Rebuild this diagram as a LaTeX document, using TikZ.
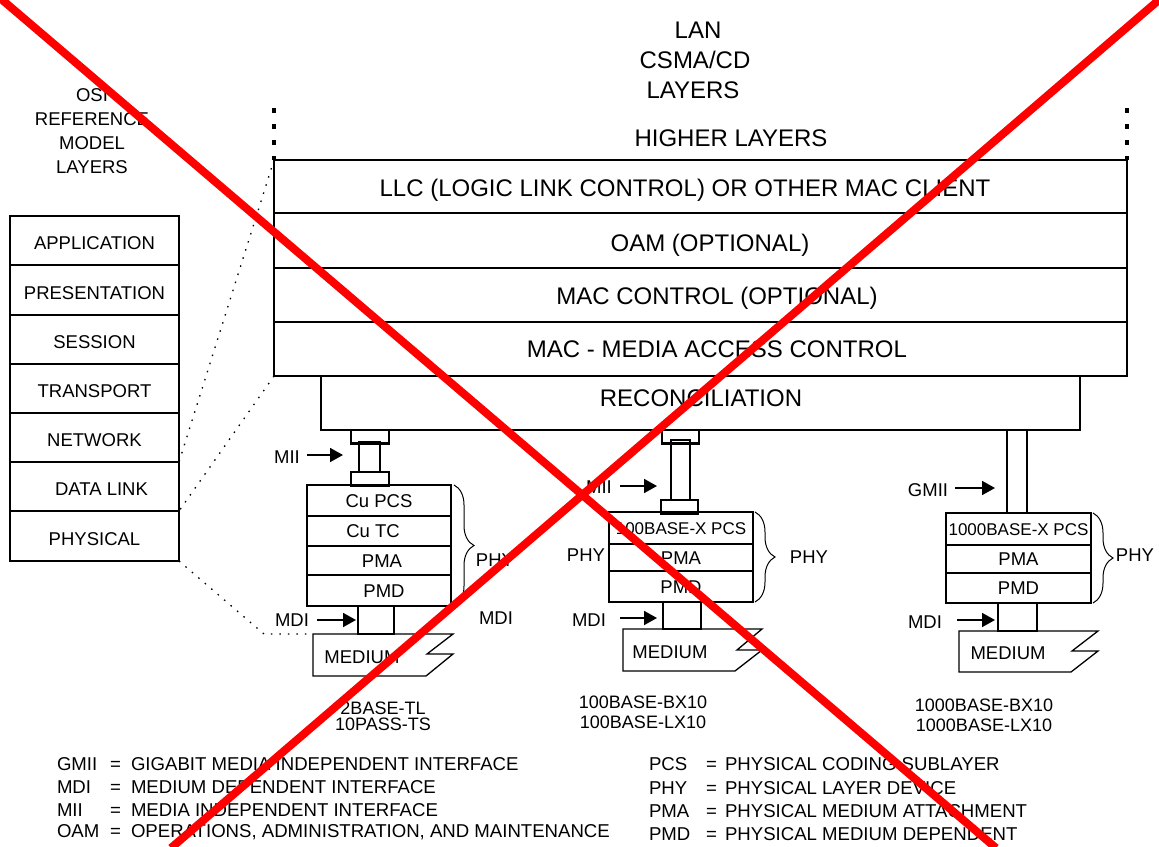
\documentclass[tikz,border=0pt]{standalone}
\usepackage{fontspec}
\setmainfont{Liberation Sans}
\usetikzlibrary{arrows.meta,decorations.pathreplacing}
\begin{document}
\begin{tikzpicture}[x=1pt,y=-1pt,
  txt/.style={inner sep=0pt, outer sep=0pt, text height=13pt, text depth=0pt, font=\fontsize{18}{20}\selectfont},
  lbl/.style={txt, font=\fontsize{18.5}{20}\selectfont, text height=13.3pt},
  leg/.style={txt, anchor=west, font=\fontsize{18.6}{20}\selectfont, text height=13.3pt},
  big/.style={txt, font=\fontsize{24}{26}\selectfont, text height=17.2pt},
  box/.style={draw, line width=2.4pt, rectangle, inner sep=0pt, outer sep=0pt, anchor=north west, text height=13.3pt, text depth=0pt, font=\fontsize{18.5}{20}\selectfont},
  osibox/.style={box, minimum width=169pt, text height=18pt},
  pcs/.style={font=\fontsize{17}{18}\selectfont, text height=12.2pt},
  arr/.style={line width=1.8pt, -{Triangle[length=13pt,width=14pt]}},
  proj/.style={line width=1.3pt, dash pattern=on 1.5pt off 7pt},
  vdots/.style={line width=3.2pt, dash pattern=on 5pt off 11pt},
  phybrace/.style={decorate, decoration={brace, amplitude=20pt}, line width=1pt},
  cross/.style={draw=red, line width=8pt}
]
\useasboundingbox (0,0) rectangle (1159,846);

% ---------- LAN heading ----------
\node[big] (lan1) at (698,30) {LAN};
\node[big] (lan2) at (695,60) {CSMA/CD};
\node[big] (lan3) at (693,90) {LAYERS};

% ---------- OSI heading ----------
\node[lbl] (osi1) at (92,95) {OSI};
\node[lbl] (osi2) at (92,119) {REFERENCE};
\node[lbl] (osi3) at (92,143) {MODEL};
\node[lbl] (osi4) at (92,167) {LAYERS};

% ---------- OSI boxes ----------
\node[osibox, minimum height=49pt] (app) at (10,216) {APPLICATION};
\node[osibox, minimum height=50pt] (pres) at (10,265) {PRESENTATION};
\node[osibox, minimum height=49pt] (sess) at (10,315) {SESSION};
\node[osibox, minimum height=49pt] (trans) at (10,364) {TRANSPORT};
\node[osibox, minimum height=49pt] (net) at (10,413) {NETWORK};
\node[osibox, minimum height=49pt] (dl) at (10,462) {\hspace*{14pt}DATA LINK};
\node[osibox, minimum height=50pt] (phys) at (10,511) {PHYSICAL};

% ---------- LAN stack ----------
\node[big] (higher) at (731,138) {HIGHER LAYERS};
\node[box, minimum width=853pt, minimum height=53pt] (llc) at (274,160) {};
\node[box, minimum width=853pt, minimum height=55pt] (oam) at (274,213) {};
\node[box, minimum width=853pt, minimum height=54pt] (macc) at (274,268) {};
\node[box, minimum width=853pt, minimum height=54pt] (mac) at (274,322) {};
\node[box, minimum width=759pt, minimum height=54pt] (rec) at (321,376) {};
\node[big] (llct) at (685,188) {LLC (LOGIC LINK CONTROL) OR OTHER MAC CLIENT};
\node[big] (oamt) at (710,243) {OAM (OPTIONAL)};
\node[big] (macct) at (717,296) {MAC CONTROL (OPTIONAL)};
\node[big] (mact) at (717,349) {MAC - MEDIA ACCESS CONTROL};
\node[big] (rect) at (701,398) {RECONCILIATION};

% dotted continuation lines
\coordinate (vl) at (274,108);
\coordinate (vr) at (1127,108);
\draw[vdots] (vl) -- (llc.north west);
\draw[vdots] (vr) -- (llc.north east);

% projection lines
\coordinate (bend) at (264,634);
\coordinate (m1) at (313,634);
\draw[proj] (llc.north west) -- (dl.north east);
\draw[proj] (mac.south west) -- (dl.south east);
\draw[proj] (phys.south east) -- (bend) -- (m1);

% ---------- Column 1 ----------
\node[box, minimum width=38pt, minimum height=12pt] (c1top) at (351,430) {};
\node[box, minimum width=21pt, minimum height=30pt] (c1stem) at (359,442) {};
\node[box, minimum width=38pt, minimum height=13pt] (c1bot) at (351,472) {};
\node[box, minimum width=144pt, minimum height=31pt] (c1pcs) at (307,485) {Cu PCS};
\node[box, minimum width=144pt, minimum height=30pt] (c1tc) at (307,516) {\hspace*{-12pt}Cu TC};
\node[box, minimum width=144pt, minimum height=29pt] (c1pma) at (307,546) {\hspace*{6pt}PMA};
\node[box, minimum width=144pt, minimum height=31pt] (c1pmd) at (307,575) {\hspace*{10pt}PMD};
\node[box, minimum width=36pt, minimum height=28pt] (c1mdi) at (358,606) {};
\draw[line width=1.3pt] (m1) -- (453,634) -- (427,654) -- (453,654) -- (426,676) -- (313,676) -- cycle;
\node[lbl] (med1) at (362,657) {MEDIUM};
\coordinate (b1a) at (454,485);
\coordinate (b1b) at (454,606);
\draw[phybrace] (b1a) -- (b1b);
\node[lbl] (phy1) at (495,560) {PHY};
\node[lbl] (mdi1r) at (496,618) {MDI};
\node[lbl] (mii1) at (287,457) {MII};
\coordinate (mii1tip) at (343,455);
\draw[arr] (307,455) -- (mii1tip);
\node[lbl] (mdi1) at (292,620) {MDI};
\coordinate (mdi1tip) at (356,620);
\draw[arr] (mdi1.east) ++(8,0) -- (mdi1tip);
\node[txt] (std1a) at (383,708) {2BASE-TL};
\node[txt] (std1b) at (383,724) {10PASS-TS};

% ---------- Column 2 ----------
\node[box, minimum width=37pt, minimum height=10pt] (c2top) at (662,430) {};
\node[box, minimum width=19pt, minimum height=60pt] (c2stem) at (671,440) {};
\node[box, minimum width=37pt, minimum height=12pt] (c2bot) at (661,500) {};
\node[box, pcs, minimum width=144pt, minimum height=32pt] (c2pcs) at (609,512) {100BASE-X PCS};
\node[box, minimum width=144pt, minimum height=27pt] (c2pma) at (609,544) {PMA};
\node[box, minimum width=144pt, minimum height=31pt] (c2pmd) at (609,571) {PMD};
\node[box, minimum width=38pt, minimum height=27pt] (c2mdi) at (663,602) {};
\coordinate (m2) at (623,629);
\draw[line width=1.3pt] (m2) -- (762,629) -- (737,650) -- (762,650) -- (735,671) -- (623,671) -- cycle;
\node[lbl] (med2) at (670,652) {MEDIUM};
\coordinate (b2a) at (755,512);
\coordinate (b2b) at (755,602);
\draw[phybrace] (b2a) -- (b2b);
\node[lbl] (phy2) at (809,557) {PHY};
\node[lbl] (phy2l) at (586,555) {PHY};
\node[lbl] (mii2) at (599,487) {MII};
\coordinate (mii2tip) at (657,486);
\draw[arr] (620,486) -- (mii2tip);
\node[lbl] (mdi2) at (589,620) {MDI};
\coordinate (mdi2tip) at (657,618);
\draw[arr] (620,618) -- (mdi2tip);
\node[txt] (std2a) at (643,702) {100BASE-BX10};
\node[txt] (std2b) at (643,722) {100BASE-LX10};

% ---------- Column 3 ----------
\node[box, minimum width=20pt, minimum height=83pt] (c3stem) at (1007,430) {};
\node[box, pcs, minimum width=145pt, minimum height=32pt] (c3pcs) at (946,513) {1000BASE-X PCS};
\node[box, minimum width=145pt, minimum height=28pt] (c3pma) at (946,545) {PMA};
\node[box, minimum width=145pt, minimum height=30pt] (c3pmd) at (946,573) {PMD};
\node[box, minimum width=39pt, minimum height=28pt] (c3mdi) at (998,603) {};
\coordinate (m3) at (959,631);
\draw[line width=1.3pt] (m3) -- (1098,631) -- (1072,651) -- (1098,651) -- (1071,672) -- (959,672) -- cycle;
\node[lbl] (med3) at (1008,653) {MEDIUM};
\coordinate (b3a) at (1093,513);
\coordinate (b3b) at (1093,603);
\draw[phybrace] (b3a) -- (b3b);
\node[lbl] (phy3) at (1135,555) {PHY};
\node[lbl] (gmii) at (928,490) {GMII};
\coordinate (gmiitip) at (995,488);
\draw[arr] (955,488) -- (gmiitip);
\node[lbl] (mdi3) at (925,622) {MDI};
\coordinate (mdi3tip) at (995,620);
\draw[arr] (957,620) -- (mdi3tip);
\node[txt] (std3a) at (984,705) {1000BASE-BX10};
\node[txt] (std3b) at (984,725) {1000BASE-LX10};

% ---------- Legend ----------
\node[leg] (la1) at (57,764) {GMII};
\node[leg] (le1) at (110,764) {=};
\node[leg] (ld1) at (131,764) {GIGABIT MEDIA INDEPENDENT INTERFACE};
\node[leg] (la2) at (57,787) {MDI};
\node[leg] (le2) at (110,787) {=};
\node[leg] (ld2) at (131,787) {MEDIUM DEPENDENT INTERFACE};
\node[leg] (la3) at (57,810) {MII};
\node[leg] (le3) at (110,810) {=};
\node[leg] (ld3) at (131,810) {MEDIA INDEPENDENT INTERFACE};
\node[leg] (la4) at (57,831) {OAM};
\node[leg] (le4) at (110,831) {=};
\node[leg] (ld4) at (131,831) {OPERATIONS, ADMINISTRATION, AND MAINTENANCE};

\node[leg] (ra1) at (649,764) {PCS};
\node[leg] (re1) at (706,764) {=};
\node[leg] (rd1) at (725,764) {PHYSICAL CODING SUBLAYER};
\node[leg] (ra2) at (649,788) {PHY};
\node[leg] (re2) at (706,788) {=};
\node[leg] (rd2) at (725,788) {PHYSICAL LAYER DEVICE};
\node[leg] (ra3) at (649,811) {PMA};
\node[leg] (re3) at (706,811) {=};
\node[leg] (rd3) at (725,811) {PHYSICAL MEDIUM ATTACHMENT};
\node[leg] (ra4) at (649,834) {PMD};
\node[leg] (re4) at (706,834) {=};
\node[leg] (rd4) at (725,834) {PHYSICAL MEDIUM DEPENDENT};

% ---------- Red cross ----------
\coordinate (xa1) at (0,-2);
\coordinate (xa2) at (996,848);
\coordinate (xb1) at (1160,-1);
\coordinate (xb2) at (171,848);
\draw[cross] (xa1) -- (xa2);
\draw[cross] (xb1) -- (xb2);
\end{tikzpicture}
\end{document}
